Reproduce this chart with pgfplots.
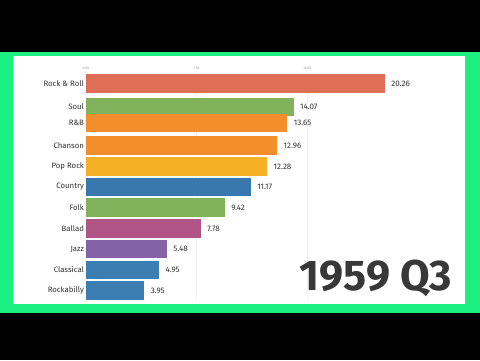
\documentclass[border=0pt]{standalone}
\usepackage{fontspec}
\setmainfont{Fira Sans}
\usepackage{pgfplots}
\pgfplotsset{compat=1.18}
\definecolor{frameg}{RGB}{28,240,130}
\definecolor{cRR}{HTML}{DE6E56}
\definecolor{cGreen}{HTML}{7FB25A}
\definecolor{cOr}{HTML}{F28E2B}
\definecolor{cPop}{HTML}{F5B026}
\definecolor{cBlue}{HTML}{3978AE}
\definecolor{cBallad}{HTML}{B05585}
\definecolor{cJazz}{HTML}{8562A8}
\definecolor{cBlue2}{HTML}{3B7EB1}
\definecolor{txt}{HTML}{333333}
\begin{document}
\begin{tikzpicture}
\fill[black] (0pt,0pt) rectangle (480pt,360pt);
\fill[frameg] (0pt,47pt) rectangle (480pt,308pt);
\fill[white] (13pt,56pt) rectangle (465pt,304pt);
\begin{axis}[
  at={(86pt,59.1pt)}, anchor=south west,
  scale only axis, width=368.75pt, height=227.7pt,
  xmin=0, xmax=25, ymin=-0.5, ymax=10.5, y dir=reverse,
  axis line style={draw=none}, major tick length=0pt,
  xtick={0,7.5,15}, xticklabels={0.00,7.50,15.00},
  xticklabel pos=top,
  xticklabel style={font=\fontsize{3.5}{4}\selectfont, text=gray!80},
  xmajorgrids, grid style={draw=gray!10, line width=0.4pt},
  ytick={0,1.13,1.91,3,4,5,6,7,8,9,10},
  yticklabels={Rock \& Roll,Soul,R\&B,Chanson,Pop Rock,Country,Folk,Ballad,Jazz,Classical,Rockabilly},
  yticklabel style={font=\fontsize{7.8}{9}\selectfont, text=txt, xshift=1.5pt},
  clip=false,
  every axis plot/.append style={xbar, bar shift=0pt, bar width=0.9, draw=none,
    nodes near coords, nodes near coords align={horizontal},
    nodes near coords style={font=\fontsize{8}{9}\selectfont, text=txt, xshift=3pt,
      /pgf/number format/.cd, fixed, fixed zerofill, precision=2, assume math mode=true}},
]
\addplot[fill=cRR] coordinates {(20.26,0)};
\addplot[fill=cGreen] coordinates {(14.07,1.13)};
\addplot[fill=cOr] coordinates {(13.65,1.91)};
\addplot[fill=cOr] coordinates {(12.96,3)};
\addplot[fill=cPop] coordinates {(12.28,4)};
\addplot[fill=cBlue] coordinates {(11.17,5)};
\addplot[fill=cGreen] coordinates {(9.42,6)};
\addplot[fill=cBallad] coordinates {(7.78,7)};
\addplot[fill=cJazz] coordinates {(5.48,8)};
\addplot[fill=cBlue2] coordinates {(4.95,9)};
\addplot[fill=cBlue2] coordinates {(3.95,10)};
\end{axis}
\node[anchor=base east, font=\fontsize{43}{47}\selectfont\bfseries, text=black!78, inner sep=0pt] at (452pt,70pt) {1959 Q3};
\end{tikzpicture}
\end{document}
